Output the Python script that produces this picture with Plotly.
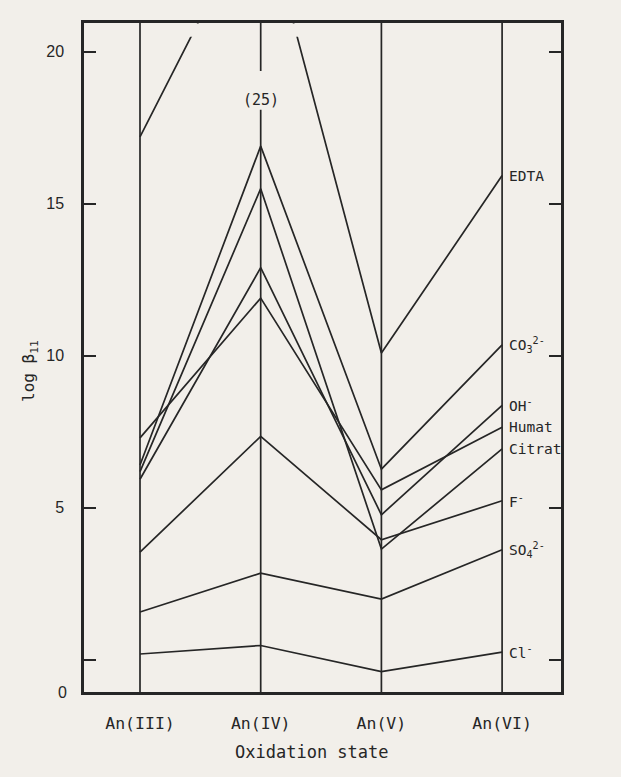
import plotly.graph_objects as go

# ---- data -------------------------------------------------------------
states = ["An(III)", "An(IV)", "An(V)", "An(VI)"]
state_pos = [1, 2, 3, 4]

edta = [17.2, 25.0, 10.09, 15.93]
co3 = [6.41, 16.9, 6.27, 10.36]
oh = [5.94, 12.9, 4.77, 8.37]
humat = [7.3, 11.9, 5.59, 7.65]
citrat = [6.19, 15.5, 3.64, 6.94]
fluor = [3.54, 7.35, 3.95, 5.23]
so4 = [1.57, 2.85, 2.0, 3.62]
chlor = [0.19, 0.47, -0.39, 0.25]

ligand_labels = ["EDTA", "CO<sub>3</sub><sup>2-</sup>", "OH<sup>-</sup>", "Humat",
                 "Citrat", "F<sup>-</sup>", "SO<sub>4</sub><sup>2-</sup>", "Cl<sup>-</sup>"]
series = [edta, co3, oh, humat, citrat, fluor, so4, chlor]

y_ticks = [0, 5, 10, 15, 20]
y_ticktext = ["", "5", "10", "15", "20"]
y_min, y_max = -1.06, 20.95
clip_top = 20.5          # lines are cut off here in the original
label_gap = [18.1, 19.37]  # gap in the An(IV) line for the "(25)" label

BG = "#f2efea"
INK = "#262626"
MONO = "DejaVu Sans Mono"
SANS = "Liberation Sans"

fig = go.Figure()
for vals in series:
    fig.add_trace(go.Scatter(x=state_pos, y=vals, mode="lines",
                             line=dict(color=INK, width=1.7),
                             showlegend=False, hoverinfo="skip"))

shapes = []
# mask to cut off the off-scale EDTA segment
shapes.append(dict(type="rect", xref="x", yref="y", x0=1.02, x1=2.98,
                   y0=clip_top, y1=20.935, fillcolor=BG, line=dict(width=0),
                   layer="above"))
# vertical lines at each oxidation state
for i, p in enumerate(state_pos):
    if i == 1:
        shapes.append(dict(type="line", xref="x", yref="y", x0=p, x1=p,
                           y0=y_min, y1=label_gap[0],
                           line=dict(color=INK, width=1.7), layer="above"))
        shapes.append(dict(type="line", xref="x", yref="y", x0=p, x1=p,
                           y0=label_gap[1], y1=y_max,
                           line=dict(color=INK, width=1.7), layer="above"))
    else:
        shapes.append(dict(type="line", xref="x", yref="y", x0=p, x1=p,
                           y0=y_min, y1=y_max,
                           line=dict(color=INK, width=1.7), layer="above"))

annotations = []
for lab, vals in zip(ligand_labels, series):
    annotations.append(dict(x=state_pos[-1], y=vals[-1], xref="x", yref="y",
                            text=lab, showarrow=False, xanchor="left",
                            yanchor="middle", xshift=5,
                            font=dict(family=MONO, size=14.5, color=INK)))
annotations.append(dict(x=state_pos[1], y=18.41, xref="x", yref="y",
                        text="(%d)" % edta[1], showarrow=False,
                        font=dict(family=MONO, size=15, color=INK)))
annotations.append(dict(x=0, y=y_min, xref="paper", yref="y", text="0",
                        showarrow=False, xanchor="right", yanchor="middle",
                        xshift=-15,
                        font=dict(family=SANS, size=16, color=INK)))
annotations.append(dict(x=0.477, y=-0.09, xref="paper", yref="paper",
                        text="Oxidation state", showarrow=False,
                        yanchor="middle",
                        font=dict(family=MONO, size=17, color=INK)))
annotations.append(dict(x=-0.113, y=0.48, xref="paper", yref="paper",
                        text="log \u03b2<sub>11</sub>", showarrow=False,
                        textangle=-90, xanchor="center", yanchor="middle",
                        font=dict(family=MONO, size=16, color=INK)))

fig.update_layout(
    width=621, height=777,
    margin=dict(l=84, r=60, t=23, b=85),
    paper_bgcolor=BG, plot_bgcolor=BG,
    shapes=shapes, annotations=annotations,
    xaxis=dict(range=[0.536, 4.488], tickvals=state_pos, ticktext=states,
               showgrid=False, zeroline=False, showline=True, mirror=True,
               linecolor=INK, linewidth=2.5, ticks="",
               ticklabelstandoff=14,
               tickfont=dict(family=MONO, size=16.5, color=INK)),
    yaxis=dict(range=[y_min, y_max], tickvals=y_ticks, ticktext=y_ticktext,
               showgrid=False, zeroline=False, showline=True, mirror="ticks",
               linecolor=INK, linewidth=2.5, ticks="inside", ticklen=12,
               tickwidth=2, tickcolor=INK, ticklabelstandoff=14,
               tickfont=dict(family=SANS, size=16, color=INK)),
)

fig.write_html("out.html")
